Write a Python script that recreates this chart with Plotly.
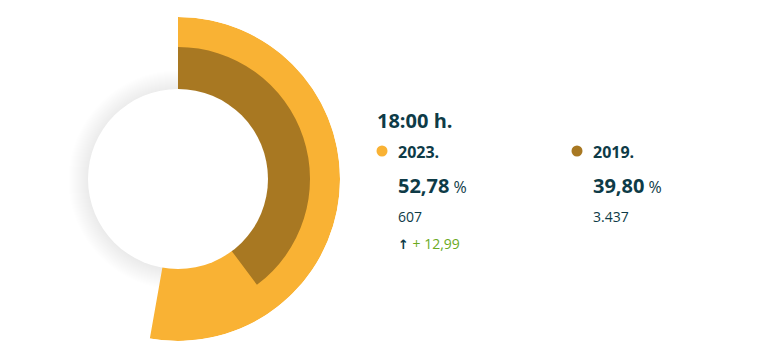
import plotly.graph_objects as go

# ---- data ----
time_label = "18:00 h."
years = ["2023.", "2019."]
percent_values = [52.78, 39.80]
percent_labels = ["52,78", "39,80"]
count_labels = ["607", "3.437"]
change_label = "+ 12,99"
colors = ["#F9B234", "#A87822"]

TEXT = "#0E3B47"
GREEN = "#6BAA1E"
FONT = "Open Sans"

W, H = 763, 351
cx_px, cy_px, R_px = 178, 179, 162
dom_x = [(cx_px - R_px) / W, (cx_px + R_px) / W]
dom_y = [1 - (cy_px + R_px) / H, 1 - (cy_px - R_px) / H]
cx = (dom_x[0] + dom_x[1]) / 2
cy = (dom_y[0] + dom_y[1]) / 2

fig = go.Figure()
outer = [1.0, 132 / 162]
inner = 0.55
for pct, col, ro in zip(percent_values, colors, outer):
    ang = pct / 100 * 360
    fig.add_trace(go.Barpolar(
        r=[ro - inner], base=[inner], theta=[ang / 2], width=[ang],
        marker=dict(color=col, line=dict(width=0)),
        hoverinfo="skip", showlegend=False,
    ))

fig.update_layout(
    width=W, height=H,
    margin=dict(l=0, r=0, t=0, b=0),
    paper_bgcolor="white", plot_bgcolor="rgba(0,0,0,0)",
    showlegend=False,
    polar=dict(
        domain=dict(x=dom_x, y=dom_y),
        bgcolor="rgba(0,0,0,0)",
        hole=0,
        radialaxis=dict(range=[0, 1], visible=False, showgrid=False),
        angularaxis=dict(rotation=90, direction="clockwise", visible=False, showgrid=False),
        bargap=0,
    ),
    font=dict(family=FONT, color=TEXT),
)

shapes = []
# soft shadow around the white centre circle
for i in range(20):
    rr = 110 - i
    shapes.append(dict(type="circle", xref="paper", yref="paper",
                       xsizemode="pixel", ysizemode="pixel",
                       xanchor=cx, yanchor=cy,
                       x0=-rr, x1=rr, y0=-rr - 1, y1=rr - 1,
                       fillcolor="rgba(0,0,0,0.0022)", line=dict(width=0),
                       layer="below"))
shapes.append(dict(type="circle", xref="paper", yref="paper",
                   xsizemode="pixel", ysizemode="pixel",
                   xanchor=cx, yanchor=cy,
                   x0=-90, x1=90, y0=-90, y1=90,
                   fillcolor="white", line=dict(width=0), layer="above"))

col_x = [382, 577]
for x_dot, col in zip(col_x, colors):
    shapes.append(dict(type="circle", xref="paper", yref="paper",
                       xsizemode="pixel", ysizemode="pixel",
                       xanchor=x_dot / W, yanchor=1 - 151 / H,
                       x0=-5.5, x1=5.5, y0=-5.5, y1=5.5,
                       fillcolor=col, line=dict(width=0)))
fig.update_layout(shapes=shapes)

def ann(text, x, y, size, color=TEXT, bold=False):
    t = f"<b>{text}</b>" if bold else text
    fig.add_annotation(text=t, x=x / W, y=1 - y / H, xref="paper", yref="paper",
                       xanchor="left", yanchor="middle", showarrow=False,
                       font=dict(family=FONT, size=size, color=color))

ann(time_label, 375, 121, 20, bold=True)
for i, x0 in enumerate([396, 591]):
    ann(years[i], x0, 152, 16, bold=True)
    fig.add_annotation(text=f"<b>{percent_labels[i]}</b><span style='font-size:16px'> %</span>",
                       x=x0 / W, y=1 - 185 / H, xref="paper", yref="paper",
                       xanchor="left", yanchor="middle", showarrow=False,
                       font=dict(family=FONT, size=20, color=TEXT))
    ann(count_labels[i], x0, 216, 14)
fig.add_annotation(text=f"<span style='color:{TEXT};font-family:DejaVu Sans;font-size:13px'><b>↑</b></span> <span style='color:{GREEN}'>{change_label}</span>",
                   x=396 / W, y=1 - 243 / H, xref="paper", yref="paper",
                   xanchor="left", yanchor="middle", showarrow=False,
                   font=dict(family=FONT, size=14, color=GREEN))

fig.write_html("out.html")
